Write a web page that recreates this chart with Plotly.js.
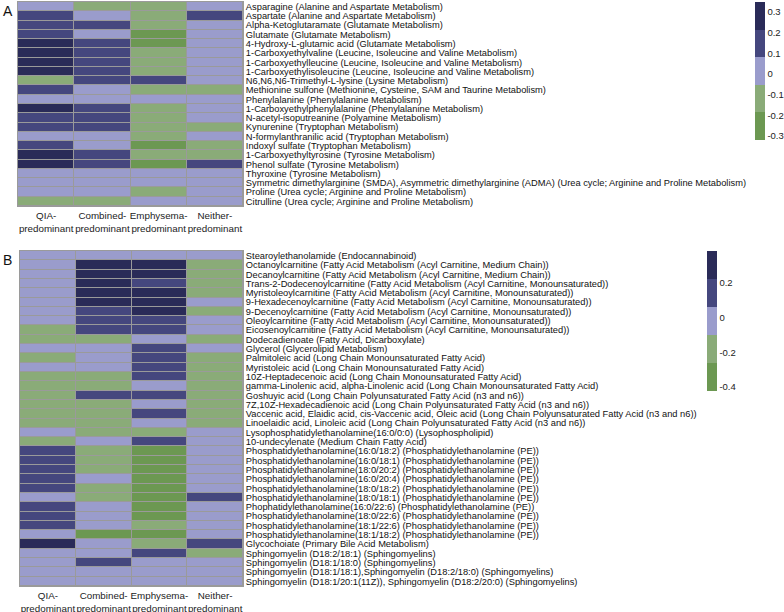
<!DOCTYPE html>
<html>
<head>
<meta charset="utf-8">
<script src="https://cdn.plot.ly/plotly-3.0.1.min.js"></script>
<style>html,body{margin:0;padding:0;background:#fff}#chart{width:784px;height:612px}</style>
</head>
<body>
<div id="chart"></div>
<script>
var groups = ["QIA-<br>predominant", "Combined-<br>predominant", "Emphysema-<br>predominant", "Neither-<br>predominant"];

var metabolitesA = [
  "Asparagine (Alanine and Aspartate Metabolism)",
  "Aspartate (Alanine and Aspartate Metabolism)",
  "Alpha-Ketoglutaramate (Glutamate Metabolism)",
  "Glutamate (Glutamate Metabolism)",
  "4-Hydroxy-L-glutamic acid (Glutamate Metabolism)",
  "1-Carboxyethylvaline (Leucine, Isoleucine and Valine Metabolism)",
  "1-Carboxyethylleucine (Leucine, Isoleucine and Valine Metabolism)",
  "1-Carboxyethylisoleucine (Leucine, Isoleucine and Valine Metabolism)",
  "N6,N6,N6-Trimethyl-L-lysine (Lysine Metabolism)",
  "Methionine sulfone (Methionine, Cysteine, SAM and Taurine Metabolism)",
  "Phenylalanine (Phenylalanine Metabolism)",
  "1-Carboxyethylphenylalanine (Phenylalanine Metabolism)",
  "N-acetyl-isoputreanine (Polyamine Metabolism)",
  "Kynurenine (Tryptophan Metabolism)",
  "N-formylanthranilic acid (Tryptophan Metabolism)",
  "Indoxyl sulfate (Tryptophan Metabolism)",
  "1-Carboxyethyltyrosine (Tyrosine Metabolism)",
  "Phenol sulfate (Tyrosine Metabolism)",
  "Thyroxine (Tyrosine Metabolism)",
  "Symmetric dimethylarginine (SMDA), Asymmetric dimethylarginine (ADMA) (Urea cycle; Arginine and Proline Metabolism)",
  "Proline (Urea cycle; Arginine and Proline Metabolism)",
  "Citrulline (Urea cycle; Arginine and Proline Metabolism)"
];

// columns: QIA, Combined, Emphysema, Neither
var valuesA = [
  [0.01, -0.12, -0.12, 0.01],
  [0.15, 0.01, -0.12, 0.15],
  [0.15, 0.15, -0.12, 0.01],
  [0.15, 0.01, -0.25, 0.01],
  [0.28, 0.15, -0.25, 0.01],
  [0.28, 0.15, -0.12, 0.01],
  [0.28, 0.15, -0.12, 0.01],
  [0.28, 0.15, -0.12, 0.01],
  [-0.12, 0.15, 0.15, 0.01],
  [0.15, 0.01, -0.12, -0.12],
  [0.01, 0.01, 0.01, 0.01],
  [0.28, 0.15, -0.12, 0.01],
  [0.15, 0.15, -0.12, 0.01],
  [0.15, 0.15, -0.12, -0.12],
  [0.01, 0.01, -0.12, 0.01],
  [0.15, 0.01, -0.25, -0.12],
  [0.28, 0.15, -0.12, -0.12],
  [0.28, 0.15, -0.25, 0.15],
  [0.01, 0.01, 0.01, 0.01],
  [0.01, 0.01, 0.01, 0.01],
  [0.01, 0.01, -0.12, 0.01],
  [-0.12, -0.12, 0.01, 0.01]
];

var metabolitesB = [
  "Stearoylethanolamide (Endocannabinoid)",
  "Octanoylcarnitine (Fatty Acid Metabolism (Acyl Carnitine, Medium Chain))",
  "Decanoylcarnitine (Fatty Acid Metabolism (Acyl Carnitine, Medium Chain))",
  "Trans-2-Dodecenoylcarnitine (Fatty Acid Metabolism (Acyl Carnitine, Monounsaturated))",
  "Myristoleoylcarnitine (Fatty Acid Metabolism (Acyl Carnitine, Monounsaturated))",
  "9-Hexadecenoylcarnitine (Fatty Acid Metabolism (Acyl Carnitine, Monounsaturated))",
  "9-Decenoylcarnitine (Fatty Acid Metabolism (Acyl Carnitine, Monounsaturated))",
  "Oleoylcarnitine (Fatty Acid Metabolism (Acyl Carnitine, Monounsaturated))",
  "Eicosenoylcarnitine (Fatty Acid Metabolism (Acyl Carnitine, Monounsaturated))",
  "Dodecadienoate (Fatty Acid, Dicarboxylate)",
  "Glycerol (Glycerolipid Metabolism)",
  "Palmitoleic acid (Long Chain Monounsaturated Fatty Acid)",
  "Myristoleic acid (Long Chain Monounsaturated Fatty Acid)",
  "10Z-Heptadecenoic acid (Long Chain Monounsaturated Fatty Acid)",
  "gamma-Linolenic acid, alpha-Linolenic acid (Long Chain Monounsaturated Fatty Acid)",
  "Goshuyic acid (Long Chain Polyunsaturated Fatty Acid (n3 and n6))",
  "7Z,10Z-Hexadecadienoic acid (Long Chain Polyunsaturated Fatty Acid (n3 and n6))",
  "Vaccenic acid, Elaidic acid, cis-Vaccenic acid, Oleic acid (Long Chain Polyunsaturated Fatty Acid (n3 and n6))",
  "Linoelaidic acid, Linoleic acid (Long Chain Polyunsaturated Fatty Acid (n3 and n6))",
  "Lysophosphatidylethanolamine(16:0/0:0) (Lysophospholipid)",
  "10-undecylenate (Medium Chain Fatty Acid)",
  "Phosphatidylethanolamine(16:0/18:2) (Phosphatidylethanolamine (PE))",
  "Phosphatidylethanolamine(16:0/18:1) (Phosphatidylethanolamine (PE))",
  "Phosphatidylethanolamine(18:0/20:2) (Phosphatidylethanolamine (PE))",
  "Phosphatidylethanolamine(16:0/20:4) (Phosphatidylethanolamine (PE))",
  "Phosphatidylethanolamine(18:0/18:2) (Phosphatidylethanolamine (PE))",
  "Phosphatidylethanolamine(18:0/18:1) (Phosphatidylethanolamine (PE))",
  "Phophatidylethanolamine(16:0/22:6) (Phosphatidylethanolamine (PE))",
  "Phosphatidylethanolamine(18:0/22:6) (Phosphatidylethanolamine (PE))",
  "Phosphatidylethanolamine(18:1/22:6) (Phosphatidylethanolamine (PE))",
  "Phosphatidylethanolamine(18:1/18:2) (Phosphatidylethanolamine (PE))",
  "Glycochoiate (Primary Bile Acid Metabolism)",
  "Sphingomyelin (D18:2/18:1) (Sphingomyelins)",
  "Sphingomyelin (D18:1/18:0) (Sphingomyelins)",
  "Sphingomyelin (D18:1/18:1),Sphingomyelin (D18:2/18:0) (Sphingomyelins)",
  "Sphingomyelin (D18:1/20:1(11Z)), Sphingomyelin (D18:2/20:0) (Sphingomyelins)"
];

var valuesB = [
  [-0.02, -0.02, -0.02, -0.02],
  [-0.02, 0.30, 0.30, -0.18],
  [-0.02, 0.30, 0.30, -0.18],
  [-0.02, 0.30, 0.15, -0.18],
  [-0.02, 0.30, 0.30, -0.18],
  [-0.02, 0.30, 0.30, -0.02],
  [-0.02, 0.15, 0.30, -0.18],
  [-0.02, 0.15, 0.15, -0.02],
  [-0.18, 0.15, 0.15, -0.02],
  [-0.18, -0.18, -0.02, -0.18],
  [-0.02, -0.02, 0.15, -0.02],
  [-0.18, -0.02, 0.15, -0.18],
  [-0.02, -0.02, 0.15, -0.18],
  [-0.18, -0.18, 0.15, -0.18],
  [-0.18, -0.18, -0.02, -0.18],
  [-0.18, 0.15, 0.15, -0.18],
  [-0.18, -0.18, -0.02, -0.18],
  [-0.18, -0.18, 0.15, -0.18],
  [-0.18, -0.18, -0.02, -0.18],
  [-0.02, -0.18, -0.18, -0.02],
  [-0.18, -0.02, 0.15, -0.02],
  [0.15, -0.18, -0.34, -0.02],
  [0.15, -0.18, -0.34, -0.02],
  [0.15, -0.18, -0.34, -0.02],
  [0.15, -0.02, -0.34, -0.02],
  [0.15, -0.18, -0.34, -0.02],
  [-0.02, -0.18, -0.34, 0.15],
  [0.15, -0.02, -0.34, -0.02],
  [0.15, -0.02, -0.34, -0.02],
  [0.15, -0.02, -0.18, -0.02],
  [-0.02, -0.34, -0.34, -0.02],
  [0.30, -0.02, -0.18, 0.15],
  [-0.02, -0.02, 0.15, -0.18],
  [-0.02, 0.15, -0.02, -0.02],
  [-0.02, -0.02, -0.02, -0.02],
  [-0.02, -0.02, -0.02, -0.02]
];

var ticksA = [0.3, 0.2, 0.1, 0, -0.1, -0.2, -0.3];
var ticksB = [0.2, 0, -0.2, -0.4];

var cGreen = "#6c9852", cLGreen = "#8aab78", cLav = "#9a9ccc", cNavy = "#45477e", cDark = "#2a2b58";
var steps = [
  [0, cGreen], [0.2, cGreen], [0.2, cLGreen], [0.4, cLGreen], [0.4, cLav],
  [0.6, cLav], [0.6, cNavy], [0.8, cNavy], [0.8, cDark], [1, cDark]
];

var W = 784, H = 612;
var font = "Liberation Sans, Arial, sans-serif";
var fy = function (px) { return 1 - px / H; };
var fx = function (px) { return px / W; };

var traceA = {
  type: "heatmap", x: groups, y: metabolitesA, z: valuesA,
  xaxis: "x", yaxis: "y",
  colorscale: steps, zmin: -0.319, zmax: 0.348, xgap: 1, ygap: 1,
  colorbar: {
    x: fx(755), xanchor: "left", y: fy(2), yanchor: "top",
    len: 138, lenmode: "pixels", thickness: 10, thicknessmode: "pixels",
    xpad: 0, ypad: 0, outlinewidth: 0, ticks: "", ticklen: 0,
    tickmode: "array", tickvals: ticksA, ticktext: ticksA.map(String),
    tickfont: {family: font, size: 9.5, color: "#222"}
  }
};
var traceB = {
  type: "heatmap", x: groups, y: metabolitesB, z: valuesB,
  xaxis: "x2", yaxis: "y2",
  colorscale: steps, zmin: -0.423, zmax: 0.383, xgap: 1, ygap: 1,
  colorbar: {
    x: fx(707), xanchor: "left", y: fy(251), yanchor: "top",
    len: 140, lenmode: "pixels", thickness: 10, thicknessmode: "pixels",
    xpad: 0, ypad: 0, outlinewidth: 0, ticks: "", ticklen: 0,
    tickmode: "array", tickvals: ticksB, ticktext: ticksB.map(String),
    tickfont: {family: font, size: 9.5, color: "#222"}
  }
};

var yCommon = {
  type: "category", autorange: "reversed", side: "right", showgrid: false, zeroline: false,
  ticks: "", tickfont: {family: font, size: 9.3, color: "#111"}, automargin: false,
  showline: true, mirror: true, linecolor: "#9a9a9a", linewidth: 1, fixedrange: true
};
var xCommon = {
  type: "category", showgrid: false, zeroline: false, ticks: "", tickangle: 0,
  tickfont: {family: font, size: 9.8, color: "#222"}, automargin: false,
  showline: true, mirror: true, linecolor: "#9a9a9a", linewidth: 1, fixedrange: true
};

var layout = {
  width: W, height: H,
  margin: {l: 0, r: 0, t: 0, b: 0, pad: 0},
  paper_bgcolor: "#fff", plot_bgcolor: "#9a9a9a",
  showlegend: false,
  font: {family: font},
  xaxis: Object.assign({}, xCommon, {domain: [fx(18), fx(243)], anchor: "y"}),
  yaxis: Object.assign({}, yCommon, {domain: [fy(206), fy(2)], anchor: "x",
    tickmode: "array", tickvals: metabolitesA, ticktext: metabolitesA}),
  xaxis2: Object.assign({}, xCommon, {domain: [fx(20), fx(243)], anchor: "y2"}),
  yaxis2: Object.assign({}, yCommon, {domain: [fy(586), fy(251)], anchor: "x2",
    tickmode: "array", tickvals: metabolitesB, ticktext: metabolitesB}),
  annotations: [
    {text: "A", xref: "paper", yref: "paper", x: fx(1), y: fy(1), xanchor: "left", yanchor: "top",
     showarrow: false, font: {family: font, size: 14, color: "#111"}},
    {text: "B", xref: "paper", yref: "paper", x: fx(1), y: fy(250), xanchor: "left", yanchor: "top",
     showarrow: false, font: {family: font, size: 14, color: "#111"}}
  ]
};

Plotly.newPlot("chart", [traceA, traceB], layout, {displayModeBar: false, staticPlot: true});
</script>
</body>
</html>
